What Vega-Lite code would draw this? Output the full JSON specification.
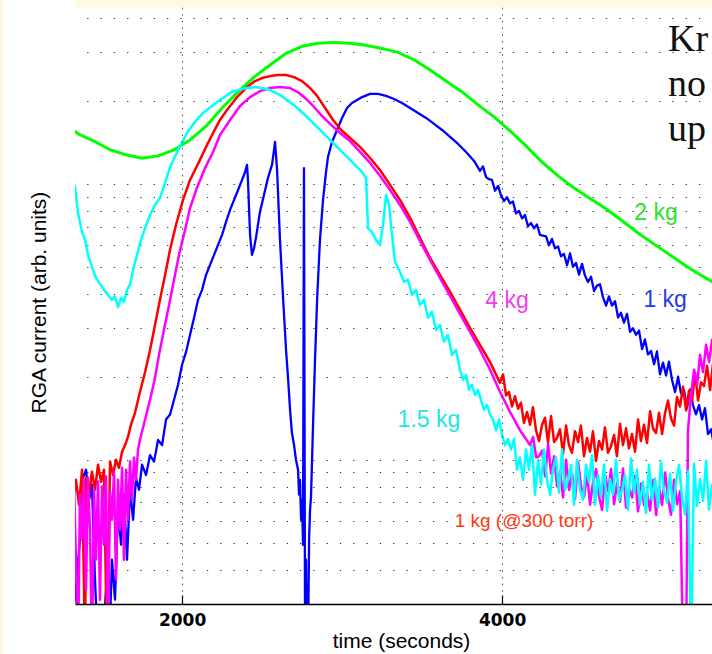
{
  "$schema": "https://vega.github.io/schema/vega-lite/v6.json",
  "width": 637,
  "height": 597,
  "autosize": {"type": "none"},
  "padding": {"left": 75, "top": 7, "right": 0, "bottom": 50},
  "background": "#FFF9E2",
  "config": {
    "view": {"fill": "#FFFFFF", "stroke": "#FFFFFF", "strokeWidth": 144}
  },
  "datasets": {
    "green": [
      {"time":1300,"current":16.0},{"time":1350,"current":15.2},{"time":1450,"current":14.3},{"time":1550,"current":13.3},{"time":1650,"current":12.75},{"time":1750,"current":12.4},{"time":1850,"current":12.64},{"time":1950,"current":13.3},{"time":2050,"current":14.44},{"time":2150,"current":16.2},{"time":2250,"current":18.86},{"time":2350,"current":21.56},{"time":2450,"current":24.4},{"time":2550,"current":27.0},{"time":2650,"current":29.75},{"time":2750,"current":31.55},{"time":2850,"current":32.35},{"time":2950,"current":32.6},{"time":3050,"current":32.35},{"time":3150,"current":31.8},{"time":3250,"current":31.0},{"time":3350,"current":30.0},{"time":3450,"current":28.2},{"time":3550,"current":25.9},{"time":3650,"current":23.6},{"time":3750,"current":21.56},{"time":3850,"current":19.35},{"time":3950,"current":17.5},{"time":4050,"current":15.56},{"time":4150,"current":13.73},{"time":4250,"current":12.0},{"time":4350,"current":10.7},{"time":4450,"current":9.67},{"time":4550,"current":8.85},{"time":4650,"current":8.13},{"time":4750,"current":7.35},{"time":4850,"current":6.64},{"time":4950,"current":6.05},{"time":5050,"current":5.53},{"time":5150,"current":5.04},{"time":5250,"current":4.64},{"time":5350,"current":4.30}
    ],
    "blue": [
      {"time":1300,"current":0.2},{"time":1362,"current":0.513},{"time":1381,"current":0.86},{"time":1400,"current":0.92},{"time":1419,"current":0.716},{"time":1437,"current":0.812},{"time":1456,"current":0.368},{"time":1475,"current":0.2},{"time":1500,"current":0.2},{"time":1525,"current":0.338},{"time":1544,"current":0.2},{"time":1562,"current":0.434},{"time":1581,"current":0.311},{"time":1600,"current":0.659},{"time":1619,"current":0.492},{"time":1637,"current":0.747},{"time":1656,"current":0.434},{"time":1675,"current":0.779},{"time":1694,"current":0.606},{"time":1712,"current":0.86},{"time":1731,"current":0.779},{"time":1750,"current":0.96},{"time":1775,"current":0.88},{"time":1800,"current":1.04},{"time":1825,"current":0.985},{"time":1850,"current":1.18},{"time":1875,"current":1.13},{"time":1900,"current":1.40},{"time":1925,"current":1.46},{"time":1950,"current":1.65},{"time":1975,"current":1.87},{"time":2000,"current":2.21},{"time":2025,"current":2.46},{"time":2050,"current":2.84},{"time":2075,"current":3.27},{"time":2100,"current":3.80},{"time":2125,"current":4.13},{"time":2150,"current":4.68},{"time":2175,"current":5.09},{"time":2200,"current":5.53},{"time":2225,"current":6.01},{"time":2250,"current":6.54},{"time":2275,"current":7.29},{"time":2300,"current":8.05},{"time":2325,"current":8.75},{"time":2350,"current":9.51},{"time":2375,"current":10.34},{"time":2394,"current":11.05},{"time":2406,"current":11.72},{"time":2412,"current":10.34},{"time":2425,"current":6.54},{"time":2437,"current":5.53},{"time":2450,"current":5.86},{"time":2462,"current":6.38},{"time":2487,"current":7.92},{"time":2512,"current":9.12},{"time":2537,"current":10.52},{"time":2562,"current":11.72},{"time":2575,"current":13.28},{"time":2581,"current":14.2},{"time":2594,"current":11.24},{"time":2612,"current":6.27},{"time":2631,"current":3.90},{"time":2650,"current":2.50},{"time":2662,"current":2.0},{"time":2675,"current":1.52},{"time":2687,"current":1.25},{"time":2700,"current":1.13},{"time":2712,"current":1.0},{"time":2725,"current":0.92},{"time":2731,"current":0.747},{"time":2737,"current":0.846},{"time":2744,"current":0.606},{"time":2750,"current":0.716},{"time":2756,"current":0.492},{"time":2762,"current":11.4},{"time":2769,"current":0.2},{"time":2775,"current":0.434},{"time":2781,"current":0.2},{"time":2787,"current":0.2},{"time":2794,"current":0.513},{"time":2800,"current":0.659},{"time":2806,"current":0.735},{"time":2819,"current":1.36},{"time":2831,"current":2.30},{"time":2844,"current":3.80},{"time":2862,"current":6.27},{"time":2881,"current":8.75},{"time":2900,"current":11.05},{"time":2912,"current":12.53},{"time":2937,"current":14.2},{"time":2969,"current":15.69},{"time":3000,"current":17.35},{"time":3031,"current":18.85},{"time":3062,"current":19.65},{"time":3094,"current":20.15},{"time":3125,"current":20.65},{"time":3175,"current":21.2},{"time":3225,"current":21.2},{"time":3275,"current":20.85},{"time":3325,"current":20.32},{"time":3375,"current":19.65},{"time":3425,"current":18.85},{"time":3475,"current":18.07},{"time":3525,"current":17.35},{"time":3575,"current":16.5},{"time":3625,"current":15.69},{"time":3675,"current":14.8},{"time":3725,"current":13.96},{"time":3775,"current":13.06},{"time":3825,"current":12.12},
      {"time":3862,"current":11.15},{"time":3881,"current":11.57},{"time":3900,"current":10.58},{"time":3918,"current":10.4},{"time":3937,"current":10.34},{"time":3956,"current":9.45},{"time":3975,"current":9.84},{"time":3993,"current":9.1},{"time":4012,"current":8.68},{"time":4031,"current":8.95},{"time":4050,"current":8.5},{"time":4068,"current":8.64},{"time":4087,"current":7.82},{"time":4106,"current":7.98},{"time":4125,"current":7.5},{"time":4143,"current":7.72},{"time":4162,"current":7.02},{"time":4181,"current":7.22},{"time":4200,"current":6.9},{"time":4218,"current":7.13},{"time":4237,"current":6.54},{"time":4256,"current":6.49},{"time":4275,"current":6.45},{"time":4293,"current":5.99},{"time":4312,"current":6.32},{"time":4331,"current":5.84},{"time":4350,"current":5.93},{"time":4368,"current":5.47},{"time":4387,"current":5.57},{"time":4406,"current":5.07},{"time":4425,"current":5.6},{"time":4443,"current":5.01},{"time":4462,"current":5.17},{"time":4481,"current":4.69},{"time":4500,"current":5.13},{"time":4518,"current":4.66},{"time":4537,"current":4.41},{"time":4556,"current":4.61},{"time":4575,"current":4.09},{"time":4593,"current":4.28},{"time":4612,"current":4.33},{"time":4631,"current":3.88},{"time":4650,"current":3.62},{"time":4668,"current":3.91},{"time":4687,"current":3.62},{"time":4706,"current":3.76},{"time":4725,"current":3.28},{"time":4743,"current":3.41},{"time":4762,"current":3.14},{"time":4781,"current":3.38},{"time":4800,"current":2.91},{"time":4818,"current":3.0},{"time":4837,"current":2.84},{"time":4856,"current":2.94},{"time":4875,"current":2.52},{"time":4893,"current":2.73},{"time":4912,"current":2.41},{"time":4931,"current":2.48},{"time":4950,"current":2.22},{"time":4968,"current":2.47},{"time":4987,"current":2.04},{"time":5006,"current":2.25},{"time":5025,"current":2.02},{"time":5043,"current":2.27},{"time":5062,"current":1.95},{"time":5081,"current":1.76},{"time":5100,"current":2.0},{"time":5118,"current":1.74},{"time":5137,"current":1.79},{"time":5156,"current":1.54},{"time":5175,"current":1.80},{"time":5193,"current":1.58},{"time":5212,"current":1.46},{"time":5231,"current":1.58},{"time":5250,"current":1.40},{"time":5268,"current":1.54},{"time":5287,"current":1.24},{"time":5306,"current":1.29},{"time":5325,"current":1.13}
    ],
    "red": [
      {"time":1300,"current":0.779},{"time":1319,"current":0.716},{"time":1337,"current":0.846},{"time":1356,"current":0.687},{"time":1375,"current":0.92},{"time":1394,"current":0.2},{"time":1400,"current":0.86},{"time":1419,"current":0.747},{"time":1437,"current":0.905},{"time":1456,"current":0.779},{"time":1475,"current":0.96},{"time":1494,"current":0.832},{"time":1512,"current":0.92},{"time":1531,"current":0.2},{"time":1550,"current":0.985},{"time":1569,"current":0.88},{"time":1587,"current":1.0},{"time":1606,"current":0.935},{"time":1625,"current":1.07},{"time":1644,"current":1.13},{"time":1662,"current":1.21},{"time":1681,"current":1.34},{"time":1706,"current":1.48},{"time":1737,"current":1.76},{"time":1769,"current":2.08},{"time":1800,"current":2.50},{"time":1831,"current":3.08},{"time":1862,"current":3.80},{"time":1894,"current":4.68},{"time":1925,"current":5.77},{"time":1962,"current":7.10},{"time":2006,"current":8.75},{"time":2050,"current":10.34},{"time":2112,"current":12.22},{"time":2156,"current":13.85},{"time":2194,"current":15.3},{"time":2237,"current":17.06},{"time":2281,"current":18.54},{"time":2344,"current":20.65},{"time":2406,"current":22.46},{"time":2456,"current":23.6},{"time":2500,"current":24.2},{"time":2550,"current":24.6},{"time":2600,"current":24.83},{"time":2650,"current":24.83},{"time":2700,"current":24.4},{"time":2750,"current":23.6},{"time":2800,"current":22.27},{"time":2844,"current":20.85},{"time":2894,"current":18.85},{"time":2944,"current":17.06},{"time":2994,"current":15.69},{"time":3050,"current":14.67},{"time":3112,"current":13.62},{"time":3175,"current":12.42},{"time":3237,"current":11.24},{"time":3300,"current":9.92},{"time":3362,"current":8.75},{"time":3425,"current":7.53},{"time":3487,"current":6.38},{"time":3550,"current":5.39},{"time":3612,"current":4.68},{"time":3675,"current":4.06},{"time":3737,"current":3.50},{"time":3800,"current":3.0},{"time":3862,"current":2.61},{"time":3925,"current":2.26},
      {"time":3987,"current":1.90},{"time":4006,"current":2.04},{"time":4025,"current":1.71},{"time":4043,"current":1.76},{"time":4062,"current":1.56},{"time":4081,"current":1.70},{"time":4100,"current":1.53},{"time":4118,"current":1.61},{"time":4137,"current":1.36},{"time":4156,"current":1.49},{"time":4175,"current":1.34},{"time":4193,"current":1.55},{"time":4212,"current":1.28},{"time":4231,"current":1.17},{"time":4250,"current":1.34},{"time":4268,"current":1.42},{"time":4287,"current":1.16},{"time":4306,"current":1.44},{"time":4325,"current":1.16},{"time":4343,"current":1.20},{"time":4362,"current":1.29},{"time":4381,"current":1.05},{"time":4400,"current":1.33},{"time":4418,"current":1.13},{"time":4437,"current":1.06},{"time":4456,"current":1.27},{"time":4475,"current":1.16},{"time":4493,"current":1.33},{"time":4512,"current":1.03},{"time":4531,"current":1.20},{"time":4550,"current":1.07},{"time":4568,"current":1.27},{"time":4587,"current":0.99},{"time":4606,"current":1.17},{"time":4625,"current":1.09},{"time":4643,"current":1.31},{"time":4662,"current":1.06},{"time":4681,"current":1.12},{"time":4700,"current":1.23},{"time":4718,"current":1.03},{"time":4737,"current":1.35},{"time":4756,"current":1.13},{"time":4775,"current":1.30},{"time":4793,"current":1.10},{"time":4812,"current":1.24},{"time":4831,"current":1.07},{"time":4850,"current":1.40},{"time":4868,"current":1.17},{"time":4887,"current":1.34},{"time":4906,"current":1.15},{"time":4925,"current":1.50},{"time":4943,"current":1.30},{"time":4962,"current":1.25},{"time":4981,"current":1.48},{"time":5000,"current":1.24},{"time":5018,"current":1.47},{"time":5037,"current":1.64},{"time":5056,"current":1.41},{"time":5075,"current":1.33},{"time":5093,"current":1.69},{"time":5112,"current":1.56},{"time":5131,"current":1.84},{"time":5150,"current":1.51},{"time":5168,"current":1.78},{"time":5187,"current":1.63},{"time":5206,"current":2.07},{"time":5225,"current":1.64},{"time":5243,"current":1.91},{"time":5262,"current":1.85},{"time":5281,"current":2.19},{"time":5300,"current":1.79},{"time":5318,"current":2.22},{"time":5337,"current":1.97}
    ],
    "magenta": [
      {"time":1300,"current":0.716},{"time":1312,"current":0.311},{"time":1325,"current":0.812},{"time":1337,"current":0.434},{"time":1350,"current":0.2},{"time":1362,"current":0.747},{"time":1375,"current":0.513},{"time":1387,"current":0.846},{"time":1400,"current":0.338},{"time":1412,"current":0.86},{"time":1425,"current":0.558},{"time":1437,"current":0.2},{"time":1450,"current":0.779},{"time":1462,"current":0.434},{"time":1475,"current":0.834},{"time":1487,"current":0.311},{"time":1500,"current":0.80},{"time":1512,"current":0.492},{"time":1525,"current":0.87},{"time":1537,"current":0.2},{"time":1550,"current":0.766},{"time":1562,"current":0.606},{"time":1575,"current":0.905},{"time":1587,"current":0.368},{"time":1600,"current":0.846},{"time":1612,"current":0.558},{"time":1625,"current":0.935},{"time":1637,"current":0.434},{"time":1650,"current":0.92},{"time":1662,"current":0.606},{"time":1675,"current":0.985},{"time":1687,"current":0.716},{"time":1700,"current":1.02},{"time":1712,"current":0.846},{"time":1725,"current":1.09},{"time":1737,"current":1.18},{"time":1769,"current":1.40},{"time":1800,"current":1.65},{"time":1831,"current":1.98},{"time":1856,"current":2.40},{"time":1887,"current":2.96},{"time":1919,"current":3.64},{"time":1950,"current":4.49},{"time":1981,"current":5.53},{"time":2019,"current":6.81},{"time":2050,"current":8.18},{"time":2094,"current":9.71},{"time":2144,"current":11.43},{"time":2194,"current":13.06},{"time":2237,"current":15.05},{"time":2300,"current":17.06},{"time":2362,"current":19.17},{"time":2425,"current":20.65},{"time":2487,"current":21.7},{"time":2550,"current":22.27},{"time":2612,"current":22.46},{"time":2675,"current":22.27},{"time":2725,"current":21.5},{"time":2769,"current":20.5},{"time":2819,"current":19.17},{"time":2869,"current":17.78},{"time":2925,"current":16.5},{"time":2987,"current":15.3},{"time":3050,"current":14.3},{"time":3112,"current":13.06},{"time":3175,"current":11.92},{"time":3237,"current":10.7},{"time":3300,"current":9.51},{"time":3362,"current":8.39},{"time":3425,"current":7.29},{"time":3487,"current":6.22},{"time":3550,"current":5.30},{"time":3612,"current":4.56},{"time":3675,"current":3.93},{"time":3737,"current":3.38},{"time":3800,"current":2.91},{"time":3862,"current":2.50},{"time":3925,"current":2.12},{"time":3987,"current":1.76},{"time":4050,"current":1.49},{"time":4112,"current":1.28},
      {"time":4175,"current":1.13},{"time":4194,"current":1.21},{"time":4213,"current":1.02},{"time":4231,"current":1.03},{"time":4250,"current":1.08},{"time":4269,"current":0.87},{"time":4288,"current":1.14},{"time":4306,"current":0.89},{"time":4325,"current":1.03},{"time":4344,"current":0.80},{"time":4363,"current":0.905},{"time":4381,"current":0.73},{"time":4400,"current":1.0},{"time":4419,"current":0.777},{"time":4438,"current":0.89},{"time":4456,"current":0.72},{"time":4475,"current":0.98},{"time":4494,"current":0.80},{"time":4513,"current":0.735},{"time":4531,"current":0.89},{"time":4550,"current":0.687},{"time":4569,"current":0.835},{"time":4588,"current":0.925},{"time":4606,"current":0.737},{"time":4625,"current":0.658},{"time":4644,"current":0.88},{"time":4663,"current":0.77},{"time":4681,"current":0.925},{"time":4700,"current":0.69},{"time":4719,"current":0.825},{"time":4738,"current":0.71},{"time":4756,"current":0.93},{"time":4775,"current":0.67},{"time":4794,"current":0.785},{"time":4813,"current":0.73},{"time":4831,"current":0.875},{"time":4850,"current":0.65},{"time":4869,"current":0.82},{"time":4888,"current":0.683},{"time":4906,"current":0.76},{"time":4925,"current":0.655},{"time":4944,"current":0.845},{"time":4963,"current":0.63},{"time":4981,"current":0.80},{"time":5000,"current":0.686},{"time":5019,"current":0.90},{"time":5038,"current":0.72},{"time":5056,"current":0.632},{"time":5075,"current":0.846},{"time":5094,"current":0.69},{"time":5113,"current":0.77},{"time":5131,"current":0.2},{"time":5150,"current":0.2},{"time":5162,"current":1.28},{"time":5181,"current":1.72},{"time":5200,"current":2.12},{"time":5219,"current":1.87},{"time":5237,"current":2.40},{"time":5256,"current":2.08},{"time":5275,"current":2.61},{"time":5294,"current":2.26},{"time":5312,"current":2.72},{"time":5337,"current":2.50}
    ],
    "cyan": [
      {"time":1300,"current":10.78},{"time":1331,"current":9.75},{"time":1350,"current":7.85},{"time":1375,"current":6.70},{"time":1394,"current":6.27},{"time":1412,"current":5.53},{"time":1437,"current":5.0},{"time":1462,"current":4.56},{"time":1487,"current":4.35},{"time":1512,"current":4.13},{"time":1537,"current":3.96},{"time":1562,"current":3.80},{"time":1581,"current":3.91},{"time":1600,"current":3.58},{"time":1619,"current":3.86},{"time":1637,"current":3.73},{"time":1656,"current":4.13},{"time":1675,"current":4.31},{"time":1694,"current":4.88},{"time":1719,"current":5.53},{"time":1744,"current":6.27},{"time":1769,"current":6.92},{"time":1800,"current":7.72},{"time":1831,"current":8.39},{"time":1862,"current":8.9},{"time":1894,"current":10.08},{"time":1925,"current":11.5},{"time":1975,"current":13.28},{"time":2031,"current":15.3},{"time":2081,"current":16.8},{"time":2131,"current":18.07},{"time":2187,"current":19.17},{"time":2237,"current":20.15},{"time":2319,"current":21.7},{"time":2406,"current":22.27},{"time":2456,"current":22.46},{"time":2500,"current":22.27},{"time":2550,"current":21.9},{"time":2612,"current":21.0},{"time":2656,"current":20.15},{"time":2706,"current":19.17},{"time":2769,"current":17.78},{"time":2831,"current":16.36},{"time":2894,"current":15.05},{"time":2956,"current":13.85},{"time":3019,"current":12.74},{"time":3081,"current":11.72},{"time":3125,"current":11.05},{"time":3150,"current":10.5},{"time":3162,"current":6.92},{"time":3187,"current":6.70},{"time":3212,"current":6.27},{"time":3237,"current":6.01},{"time":3256,"current":7.10},{"time":3275,"current":9.12},{"time":3294,"current":8.39},{"time":3312,"current":6.54},{"time":3331,"current":5.21},{"time":3362,"current":4.80},{"time":3387,"current":4.42},{"time":3412,"current":4.49},{"time":3437,"current":3.96},{"time":3462,"current":4.13},{"time":3487,"current":3.64},{"time":3512,"current":3.80},{"time":3537,"current":3.27},{"time":3562,"current":3.44},{"time":3587,"current":2.96},{"time":3612,"current":3.08},{"time":3637,"current":2.68},{"time":3662,"current":2.84},{"time":3687,"current":2.40},{"time":3712,"current":2.50},
      {"time":3737,"current":2.12},{"time":3756,"current":1.95},{"time":3775,"current":2.03},{"time":3793,"current":1.79},{"time":3812,"current":1.87},{"time":3831,"current":1.72},{"time":3850,"current":1.79},{"time":3868,"current":1.65},{"time":3887,"current":1.52},{"time":3906,"current":1.58},{"time":3925,"current":1.46},{"time":3943,"current":1.40},{"time":3962,"current":1.28},{"time":3981,"current":1.40},{"time":4000,"current":1.23},{"time":4018,"current":1.13},{"time":4037,"current":1.19},{"time":4056,"current":1.09},{"time":4075,"current":1.19},{"time":4093,"current":0.92},{"time":4112,"current":1.02},{"time":4131,"current":0.846},{"time":4150,"current":1.09},{"time":4168,"current":0.92},{"time":4187,"current":1.13},{"time":4206,"current":0.747},{"time":4225,"current":1.0},{"time":4243,"current":0.812},{"time":4262,"current":1.09},{"time":4281,"current":0.846},{"time":4300,"current":0.747},{"time":4318,"current":0.92},{"time":4337,"current":1.02},{"time":4356,"current":0.76},{"time":4375,"current":1.09},{"time":4393,"current":0.779},{"time":4412,"current":0.846},{"time":4431,"current":0.96},{"time":4450,"current":0.687},{"time":4468,"current":1.0},{"time":4487,"current":0.779},{"time":4506,"current":0.716},{"time":4525,"current":0.96},{"time":4543,"current":0.83},{"time":4562,"current":1.04},{"time":4581,"current":0.687},{"time":4600,"current":0.88},{"time":4618,"current":0.735},{"time":4637,"current":0.96},{"time":4656,"current":0.653},{"time":4675,"current":0.85},{"time":4693,"current":0.747},{"time":4712,"current":1.0},{"time":4731,"current":0.716},{"time":4750,"current":0.779},{"time":4768,"current":0.88},{"time":4787,"current":0.659},{"time":4806,"current":1.01},{"time":4825,"current":0.757},{"time":4843,"current":0.92},{"time":4862,"current":0.687},{"time":4881,"current":0.83},{"time":4900,"current":0.64},{"time":4918,"current":0.96},{"time":4937,"current":0.716},{"time":4956,"current":0.855},{"time":4975,"current":0.67},{"time":4993,"current":0.98},{"time":5012,"current":0.77},{"time":5031,"current":0.70},{"time":5050,"current":0.89},{"time":5068,"current":0.653},{"time":5087,"current":0.836},{"time":5106,"current":0.957},{"time":5125,"current":0.73},{"time":5143,"current":0.635},{"time":5162,"current":0.91},{"time":5181,"current":0.2},{"time":5200,"current":0.97},{"time":5218,"current":0.68},{"time":5237,"current":0.85},{"time":5256,"current":0.71},{"time":5275,"current":0.99},{"time":5293,"current":0.66},{"time":5312,"current":0.81},{"time":5331,"current":0.74}
    ],
    "labels": [
      {"label":"2 kg","time":4962,"current":7.85},
      {"label":"1 kg","time":5019,"current":3.80},
      {"label":"4 kg","time":4031,"current":3.77},
      {"label":"1.5 kg","time":3543,"current":1.39},
      {"label":"1 kg (@300 torr)","time":4137,"current":0.60}
    ],
    "notes": [
      {"text":"Kr","time":5037,"current":30.34},
      {"text":"no","time":5037,"current":20.84},
      {"text":"up","time":5037,"current":14.31}
    ]
  },
  "resolve": {"scale": {"color": "independent"}, "axis": {"x": "independent"}},
  "layer": [
    {
      "data": {"name": "green"},
      "mark": {"type": "line", "clip": true, "strokeWidth": 3, "strokeJoin": "round"},
      "encoding": {
        "x": {"field": "time", "type": "quantitative", "scale": {"domain": [1331, 5312], "nice": false, "zero": false},
          "axis": {"values": [2000, 4000], "format": "d", "grid": true, "gridColor": "#333333", "gridDash": [1.3, 5.4], "gridWidth": 1,
            "domain": true, "domainColor": "#000000", "domainWidth": 1.5, "ticks": true, "tickSize": -9, "tickColor": "#000000", "tickWidth": 1.2,
            "labelPadding": 17, "labelFont": "DejaVu Sans", "labelFontSize": 17, "labelFontWeight": "bold", "labelColor": "#000000", "labelFlush": false,
            "title": "time (seconds)", "titleFont": "Liberation Sans", "titleFontSize": 21, "titleFontWeight": "normal", "titleColor": "#000000",
            "titleX": 326, "titleY": 43, "titleBaseline": "alphabetic", "zindex": 1}},
        "y": {"field": "current", "type": "quantitative", "scale": {"type": "log", "domain": [0.3, 43.8], "nice": false},
          "axis": {"values": [0.3, 0.4, 0.5, 0.6, 0.7, 0.8, 0.9, 1, 2, 3, 4, 5, 6, 7, 8, 9, 10, 20, 30, 40], "grid": true, "gridColor": "#333333", "gridDash": [1.3, 12], "gridDashOffset": 1.6, "gridWidth": 1,
            "domain": false, "ticks": false, "labels": false,
            "title": "RGA current (arb. units)", "titleFont": "Liberation Sans", "titleFontSize": 21, "titleFontWeight": "normal", "titleColor": "#000000",
            "titleX": -36, "titleY": 295, "titleBaseline": "middle"}},
        "color": {"datum": "2 kg", "type": "nominal", "scale": {"domain": ["2 kg"], "range": ["#00FF00"]}, "legend": null}
      }
    },
    {
      "data": {"name": "blue"},
      "mark": {"type": "line", "clip": true, "strokeWidth": 2.3, "strokeJoin": "round"},
      "encoding": {
        "x": {"field": "time", "type": "quantitative", "scale": {"domain": [1331, 5312], "nice": false, "zero": false},
          "axis": {"orient": "top", "offset": 7, "domain": true, "domainColor": "#FFF9E2", "domainWidth": 14, "ticks": false, "labels": false, "grid": false, "title": null, "zindex": 3}},
        "y": {"field": "current", "type": "quantitative", "scale": {"type": "log", "domain": [0.3, 43.8], "nice": false}},
        "color": {"datum": "1 kg", "type": "nominal", "scale": {"domain": ["1 kg"], "range": ["#0000FF"]}, "legend": null}
      }
    },
    {
      "data": {"name": "red"},
      "mark": {"type": "line", "clip": true, "strokeWidth": 2.5, "strokeJoin": "round"},
      "encoding": {
        "x": {"field": "time", "type": "quantitative", "scale": {"domain": [1331, 5312], "nice": false, "zero": false}, "axis": null},
        "y": {"field": "current", "type": "quantitative", "scale": {"type": "log", "domain": [0.3, 43.8], "nice": false}},
        "color": {"datum": "1 kg (@300 torr)", "type": "nominal", "scale": {"domain": ["1 kg (@300 torr)"], "range": ["#FF0000"]}, "legend": null}
      }
    },
    {
      "data": {"name": "magenta"},
      "mark": {"type": "line", "clip": true, "strokeWidth": 2.5, "strokeJoin": "round"},
      "encoding": {
        "x": {"field": "time", "type": "quantitative", "scale": {"domain": [1331, 5312], "nice": false, "zero": false}, "axis": null},
        "y": {"field": "current", "type": "quantitative", "scale": {"type": "log", "domain": [0.3, 43.8], "nice": false}},
        "color": {"datum": "4 kg", "type": "nominal", "scale": {"domain": ["4 kg"], "range": ["#FF00FF"]}, "legend": null}
      }
    },
    {
      "data": {"name": "cyan"},
      "mark": {"type": "line", "clip": true, "strokeWidth": 2.5, "strokeJoin": "round"},
      "encoding": {
        "x": {"field": "time", "type": "quantitative", "scale": {"domain": [1331, 5312], "nice": false, "zero": false}, "axis": null},
        "y": {"field": "current", "type": "quantitative", "scale": {"type": "log", "domain": [0.3, 43.8], "nice": false}},
        "color": {"datum": "1.5 kg", "type": "nominal", "scale": {"domain": ["1.5 kg"], "range": ["#00FFFF"]}, "legend": null}
      }
    },
    {
      "data": {"name": "labels"},
      "transform": [{"filter": "datum.label !== '1 kg (@300 torr)'"}],
      "mark": {"type": "text", "font": "Liberation Sans", "fontSize": 23, "align": "center", "baseline": "middle"},
      "encoding": {
        "x": {"field": "time", "type": "quantitative", "scale": {"domain": [1331, 5312], "nice": false, "zero": false}, "axis": null},
        "y": {"field": "current", "type": "quantitative", "scale": {"type": "log", "domain": [0.3, 43.8], "nice": false}},
        "text": {"field": "label"},
        "color": {"field": "label", "type": "nominal", "scale": {"domain": ["2 kg", "1 kg", "4 kg", "1.5 kg"], "range": ["#2BE22B", "#1E3CEB", "#EE40EE", "#20E6E6"]}, "legend": null}
      }
    },
    {
      "data": {"name": "labels"},
      "transform": [{"filter": "datum.label === '1 kg (@300 torr)'"}],
      "mark": {"type": "text", "font": "Liberation Sans", "fontSize": 19, "align": "center", "baseline": "middle"},
      "encoding": {
        "x": {"field": "time", "type": "quantitative", "scale": {"domain": [1331, 5312], "nice": false, "zero": false}, "axis": null},
        "y": {"field": "current", "type": "quantitative", "scale": {"type": "log", "domain": [0.3, 43.8], "nice": false}},
        "text": {"field": "label"},
        "color": {"field": "label", "type": "nominal", "scale": {"domain": ["1 kg (@300 torr)"], "range": ["#FF3812"]}, "legend": null}
      }
    },
    {
      "data": {"name": "notes"},
      "mark": {"type": "text", "font": "Liberation Serif", "fontSize": 38, "align": "left", "baseline": "alphabetic", "color": "#111111"},
      "encoding": {
        "x": {"field": "time", "type": "quantitative", "scale": {"domain": [1331, 5312], "nice": false, "zero": false}, "axis": null},
        "y": {"field": "current", "type": "quantitative", "scale": {"type": "log", "domain": [0.3, 43.8], "nice": false}},
        "text": {"field": "text"}
      }
    }
  ]
}
